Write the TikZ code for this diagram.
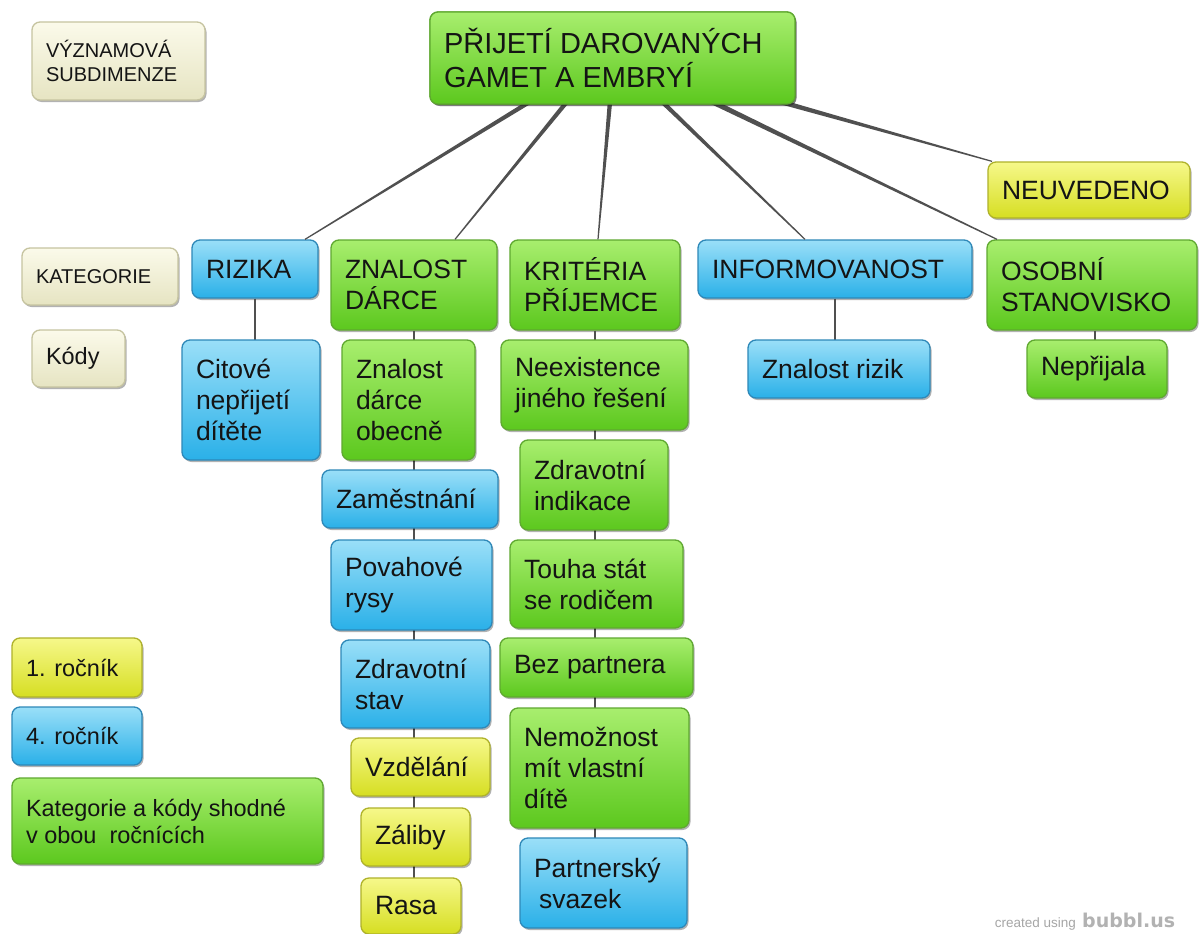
\documentclass[tikz,border=0pt]{standalone}
\usepackage{fontspec}
\setmainfont{Liberation Sans}
\newfontfamily\wmfont{DejaVu Sans}
\usetikzlibrary{shadows,calc}
\definecolor{gTop}{HTML}{A8EE6E}
\definecolor{gBot}{HTML}{5CC81E}
\definecolor{gBrd}{HTML}{5FA830}
\definecolor{bTop}{HTML}{9ADFF8}
\definecolor{bBot}{HTML}{2AB0E8}
\definecolor{bBrd}{HTML}{2E88B8}
\definecolor{yTop}{HTML}{F6F88A}
\definecolor{yBot}{HTML}{D6DE22}
\definecolor{yBrd}{HTML}{AFB22A}
\definecolor{eTop}{HTML}{FBFAEA}
\definecolor{eBot}{HTML}{E6E4C2}
\definecolor{eBrd}{HTML}{C6C4A0}
\definecolor{lnk}{HTML}{505050}
\definecolor{txt}{HTML}{141414}
\newcommand\bub[7]{%
  \pgfmathsetmacro\bubW{#5-#3}%
  \pgfmathsetmacro\bubH{#6-#4}%
  \pgfmathsetmacro\bubT{#5-#3-28}%
  \node[box,#2,minimum width=\bubW pt,minimum height=\bubH pt,text width=\bubT pt] (#1) at ({(#3+#5)/2},{(#4+#6)/2}) {#7};}
% tapered connector from #1 (wide end, half width #3) to #2 (narrow end, half width #4)
\newcommand\taper[4]{%
  \fill[lnk] ($(#1)!#3!90:(#2)$) -- ($(#1)!#3!-90:(#2)$) -- ($(#2)!#4!90:(#1)$) -- ($(#2)!#4!-90:(#1)$) -- cycle;}
\tikzset{
  box/.style={draw,rounded corners=8pt,line width=1.3pt,inner xsep=14pt,inner ysep=2pt,
    align=flush left,text=txt,font=\fontsize{26.5}{31}\selectfont,
    drop shadow={shadow xshift=1.5pt,shadow yshift=-2pt,opacity=0.3,fill=black}},
  gbox/.style={draw=gBrd,top color=gTop,bottom color=gBot},
  bbox/.style={draw=bBrd,top color=bTop,bottom color=bBot},
  ybox/.style={draw=yBrd,top color=yTop,bottom color=yBot},
  ebox/.style={draw=eBrd,top color=eTop,bottom color=eBot},
  small/.style={font=\fontsize{20}{24}\selectfont},
  mid/.style={font=\fontsize{23.5}{27}\selectfont},
  big/.style={font=\fontsize{29}{34}\selectfont},
  sublink/.style={draw=lnk,line width=2.6pt},
}
\begin{document}
\begin{tikzpicture}[x=1pt,y=-1pt]
\useasboundingbox[fill=white] (0,0) rectangle (1199,934);
% --- categories
\bub{rizika}{bbox}{192}{240}{318}{298}{RIZIKA}
\bub{znalost}{gbox}{331}{240}{497}{330}{ZNALOST\\DÁRCE}
\bub{kriteria}{gbox}{510}{240}{680}{330}{KRITÉRIA\\PŘÍJEMCE}
\bub{inform}{bbox}{698}{240}{972}{298}{INFORMOVANOST}
\bub{osobni}{gbox}{987}{240}{1197}{330}{OSOBNÍ\\STANOVISKO}
\bub{neuved}{ybox}{988}{162}{1190}{218}{NEUVEDENO}
% title placed to get anchors, links, then title again on top
\bub{title}{gbox,big}{430}{12}{795}{104}{PŘIJETÍ DAROVANÝCH\\GAMET A EMBRYÍ}
\coordinate (s1) at ([xshift=-82.5pt,yshift=3pt]title.south);
\coordinate (s2) at ([xshift=-45.5pt,yshift=3pt]title.south);
\coordinate (s3) at ([xshift=-2.5pt,yshift=3pt]title.south);
\coordinate (s4) at ([xshift=49.5pt,yshift=3pt]title.south);
\coordinate (s5) at ([xshift=99.5pt,yshift=3pt]title.south);
\coordinate (s6) at ([xshift=167.5pt,yshift=3pt]title.south);
\coordinate (e1) at ([xshift=50pt]rizika.north);
\coordinate (e2) at ([xshift=41pt]znalost.north);
\coordinate (e3) at ([xshift=3pt]kriteria.north);
\coordinate (e4) at ([xshift=-30pt]inform.north);
\coordinate (e5) at ([xshift=-95pt]osobni.north);
\coordinate (e6) at ([xshift=-97pt]neuved.north);
\taper{s1}{e1}{2.2pt}{0.6pt}
\taper{s2}{e2}{2.2pt}{0.6pt}
\taper{s3}{e3}{2.2pt}{0.6pt}
\taper{s4}{e4}{2.2pt}{0.6pt}
\taper{s5}{e5}{2.6pt}{0.6pt}
\taper{s6}{e6}{2.4pt}{0.6pt}
\bub{title}{gbox,big}{430}{12}{795}{104}{PŘIJETÍ DAROVANÝCH\\GAMET A EMBRYÍ}
% --- legend
\bub{lvyz}{ebox,small}{32}{22}{205}{100}{VÝZNAMOVÁ\\SUBDIMENZE}
\bub{lkat}{ebox,small}{22}{248}{178}{305}{KATEGORIE}
\bub{lkod}{ebox,mid}{32}{330}{125}{387}{Kódy}
\bub{lr1}{ybox,mid}{12}{638}{142}{697}{1. ročník}
\bub{lr4}{bbox,mid}{12}{707}{142}{765}{4. ročník}
\bub{lsh}{gbox,mid}{12}{778}{323}{864}{Kategorie a kódy shodné\\v obou\ \ ročnících}
% --- sub links
\draw[sublink] (rizika.south) -- (rizika.south |- 0,340);
\draw[sublink] (znalost.south) -- (znalost.south |- 0,930);
\draw[sublink] (kriteria.south) -- (kriteria.south |- 0,880);
\draw[sublink] (inform.south) -- (inform.south |- 0,340);
\draw[sublink] ([xshift=3pt]osobni.south) -- ([xshift=3pt]osobni.south |- 0,340);
% --- codes
\bub{citove}{bbox}{182}{340}{320}{460}{Citové\\nepřijetí\\dítěte}
\bub{zdo}{gbox}{342}{340}{475}{460}{Znalost\\dárce\\obecně}
\bub{zam}{bbox}{322}{470}{498}{528}{Zaměstnání}
\bub{pov}{bbox}{331}{540}{492}{630}{Povahové\\rysy}
\bub{zst}{bbox}{341}{640}{490}{728}{Zdravotní\\stav}
\bub{vzd}{ybox}{351}{738}{490}{796}{Vzdělání}
\bub{zal}{ybox}{361}{808}{470}{866}{Záliby}
\bub{rasa}{ybox}{361}{878}{461}{934}{Rasa}
\bub{neex}{gbox}{501}{340}{688}{430}{Neexistence\\jiného řešení}
\bub{zin}{gbox}{520}{440}{668}{530}{Zdravotní\\indikace}
\bub{tou}{gbox}{510}{540}{683}{628}{Touha stát\\se rodičem}
\bub{bez}{gbox}{500}{638}{693}{697}{Bez partnera}
\bub{nem}{gbox}{510}{708}{689}{828}{Nemožnost\\mít vlastní\\dítě}
\bub{par}{bbox}{520}{838}{687}{928}{Partnerský\\\hspace*{5pt}svazek}
\bub{zri}{bbox}{748}{340}{930}{398}{Znalost rizik}
\bub{nep}{gbox}{1027}{340}{1167}{398}{Nepřijala}
% --- watermark
\node[anchor=base east,inner sep=0pt,text=black!35,font=\fontsize{13.5}{15}\selectfont] (wm) at (1076,927) {created using};
\node[anchor=base west,inner sep=0pt,text=black!30,font=\wmfont\fontsize{19}{20}\selectfont\bfseries] (wm2) at (1082,927) {bubbl.us};
\end{tikzpicture}
\end{document}
